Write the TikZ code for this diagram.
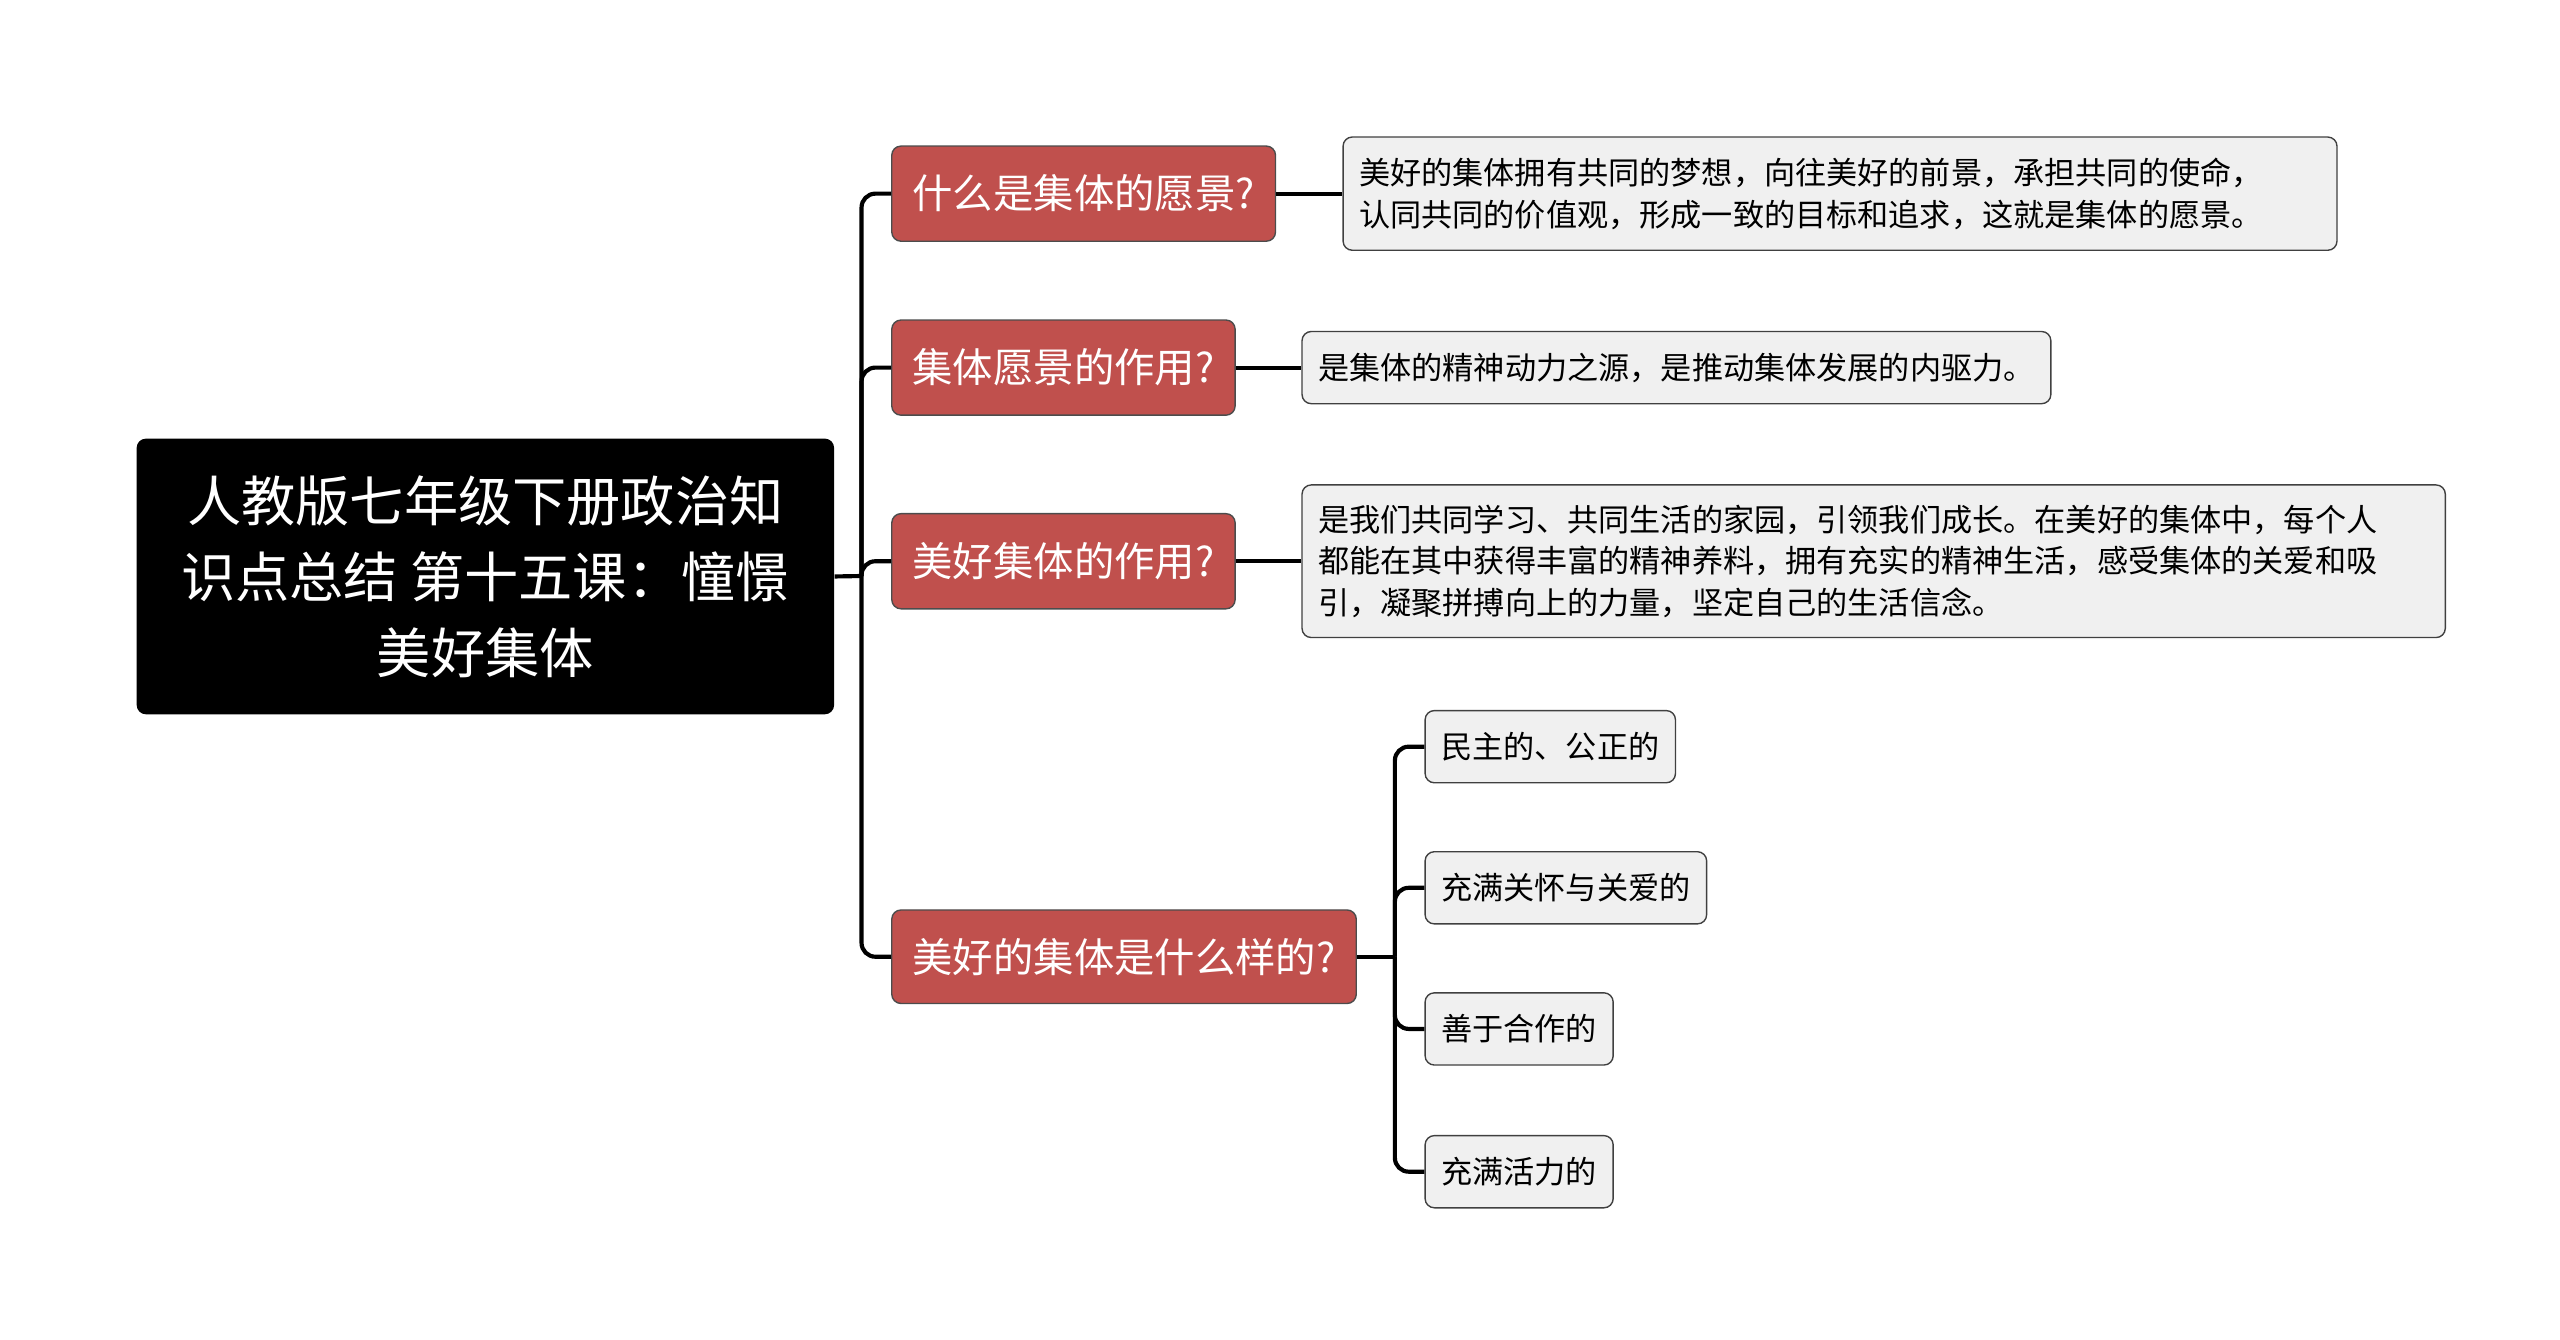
\documentclass[tikz,border=0pt]{standalone}
\usepackage{fontspec}
\setmainfont{Noto Sans CJK SC}
\definecolor{mmred}{RGB}{192,80,77}
\definecolor{mmleaf}{RGB}{240,240,240}
\usetikzlibrary{positioning}
\tikzset{
  rootbox/.style={rectangle, fill=black, text=white, rounded corners=4pt, align=center, anchor=north west, font=\fontsize{23.5}{33}\selectfont, inner sep=0pt},
  branch/.style={rectangle, draw=black!70, fill=mmred, text=white, rounded corners=4pt, anchor=west, font=\fontsize{17.5}{21}\selectfont, inner xsep=9pt, inner ysep=0pt, line width=0.6pt},
  leaf/.style={rectangle, draw=black!75, fill=mmleaf, rounded corners=4pt, anchor=west, align=left, font=\fontsize{13.5}{18}\selectfont, inner xsep=7pt, inner ysep=0pt, line width=0.6pt},
  link/.style={line width=1.8pt, rounded corners=6pt}
}
\begin{document}
\begin{tikzpicture}[x=0.025cm, y=-0.025cm]
\useasboundingbox (0,0) rectangle (1560,816);

% Root
\node[rootbox, minimum width=425*0.025cm, minimum height=168*0.025cm] (root) at (83,267) {人教版七年级下册政治知\\识点总结 第十五课：憧憬\\美好集体};

% Branches
\node[branch, minimum height=58*0.025cm] (vision) at (543,118) {什么是集体的愿景?};
\node[branch, minimum height=58*0.025cm] (role) at (543,224) {集体愿景的作用?};
\node[branch, minimum height=58*0.025cm] (good) at (543,342) {美好集体的作用?};
\node[branch, minimum height=57*0.025cm] (kind) at (543,583) {美好的集体是什么样的?};

% Leaves
\node[leaf, text width=586*0.025cm, minimum height=69*0.025cm] (visiontext) at (818,118) {美好的集体拥有共同的梦想，向往美好的前景，承担共同的使命，\\认同共同的价值观，形成一致的目标和追求，这就是集体的愿景。};
\node[leaf, minimum height=44*0.025cm] (roletext) at (793,224) {是集体的精神动力之源，是推动集体发展的内驱力。};
\node[leaf, text width=677*0.025cm, minimum height=93*0.025cm] (goodtext) at (793,342) {是我们共同学习、共同生活的家园，引领我们成长。在美好的集体中，每个人\\都能在其中获得丰富的精神养料，拥有充实的精神生活，感受集体的关爱和吸\\引，凝聚拼搏向上的力量，坚定自己的生活信念。};
\node[leaf, minimum height=44*0.025cm] (kinda) at (868,455) {民主的、公正的};
\node[leaf, minimum height=44*0.025cm] (kindb) at (868,541) {充满关怀与关爱的};
\node[leaf, minimum height=44*0.025cm] (kindc) at (868,627) {善于合作的};
\node[leaf, minimum height=44*0.025cm] (kindd) at (868,714) {充满活力的};

% Connectors
\coordinate (trunk) at (525,351);
\draw[link] (root.east) -- (trunk);
\foreach \b in {vision,role,good,kind}
  \draw[link] (trunk) |- (\b.west);
\draw[link] (vision.east) -- (visiontext.west);
\draw[link] (role.east) -- (roletext.west);
\draw[link] (good.east) -- (goodtext.west);
\coordinate (fork) at (850,583);
\draw[link] (kind.east) -- (fork);
\foreach \l in {kinda,kindb,kindc,kindd}
  \draw[link] (fork) |- (\l.west);
\end{tikzpicture}
\end{document}
